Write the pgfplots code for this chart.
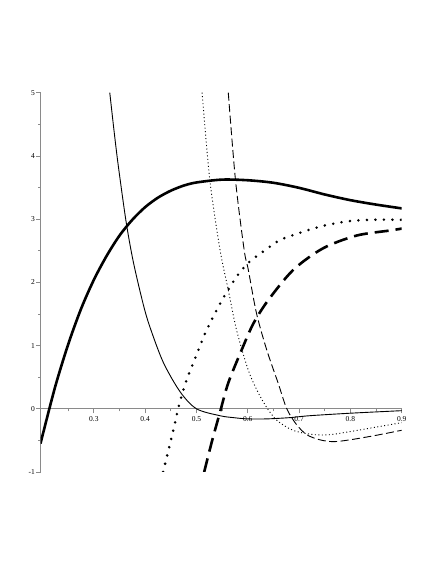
\documentclass[border=0pt]{standalone}
\usepackage{fontspec}
\setmainfont{Liberation Serif}
\usepackage{pgfplots}
\pgfplotsset{compat=1.18}

\definecolor{axisgray}{HTML}{8A8A8A}

\begin{document}
\begin{tikzpicture}
  % page = 436 x 564, one pt per pixel
  \path[use as bounding box] (0,0) rectangle (436pt,564pt);
  \begin{axis}[
    at={(40.5pt,92pt)}, anchor=south west,
    scale only axis,
    width=361.2pt, height=379.3pt,
    xmin=0.196, xmax=0.9,
    ymin=-1, ymax=5,
    axis x line*=middle,
    axis y line*=left,
    axis line style={color=axisgray, line width=0.9pt},
    xtick={0.3,0.4,0.5,0.6,0.7,0.8,0.9},
    xticklabels={0.3,0.4,0.5,0.6,0.7,0.8,0.9},
    minor xtick={0.25,0.35,0.45,0.55,0.65,0.75,0.85},
    ytick={-1,0,1,2,3,4,5},
    minor ytick={-0.5,0.5,1.5,2.5,3.5,4.5},
    tick align=outside,
    major tick length=4.5pt,
    minor tick length=2.5pt,
    tick style={color=axisgray, line width=0.8pt},
    ticklabel style={font=\fontsize{7.5}{8}\selectfont, text=black},
    yticklabel style={inner sep=1pt},
    /pgf/number format/assume math mode=true,
    clip=true,
  ]
    % thick solid
    \addplot[black, line width=2.6pt, smooth] coordinates {
      (0.196,-0.55) (0.200,-0.42) (0.225,0.36) (0.250,1.02) (0.275,1.58)
      (0.300,2.04) (0.325,2.42) (0.350,2.74) (0.375,2.99) (0.400,3.19)
      (0.425,3.34) (0.450,3.45) (0.475,3.53) (0.500,3.58) (0.550,3.625)
      (0.600,3.615) (0.650,3.575) (0.700,3.495) (0.750,3.39) (0.800,3.30)
      (0.850,3.23) (0.900,3.17)
    };
    % thin solid
    \addplot[black, line width=0.9pt, smooth] coordinates {
      (0.331,5.00) (0.340,4.35) (0.348,3.82) (0.363,2.95) (0.377,2.32)
      (0.396,1.66) (0.409,1.30) (0.435,0.74) (0.468,0.27) (0.500,0.00)
      (0.546,-0.11) (0.572,-0.14) (0.600,-0.16) (0.637,-0.16) (0.682,-0.14)
      (0.720,-0.11) (0.800,-0.07) (0.900,-0.03)
    };
    % thin dotted
    \addplot[black, line width=0.9pt, smooth, dash pattern=on 1pt off 2.5pt] coordinates {
      (0.511,5.00) (0.526,3.62) (0.546,2.51) (0.562,1.88) (0.578,1.25)
      (0.601,0.61) (0.620,0.26) (0.637,0.02) (0.655,-0.17) (0.680,-0.31)
      (0.700,-0.37) (0.730,-0.41) (0.760,-0.41) (0.800,-0.36) (0.850,-0.29)
      (0.900,-0.22)
    };
    % thin dashed
    \addplot[black, line width=0.9pt, smooth, dash pattern=on 8pt off 3.5pt] coordinates {
      (0.562,5.00) (0.576,3.62) (0.593,2.51) (0.601,2.20) (0.617,1.51)
      (0.637,0.93) (0.659,0.41) (0.676,0.00) (0.695,-0.25) (0.715,-0.41)
      (0.740,-0.49) (0.767,-0.52) (0.800,-0.49) (0.850,-0.42) (0.900,-0.34)
    };
    % thick dotted
    \addplot[black, line width=2.8pt, smooth, line cap=round, dash pattern=on 0pt off 8.5pt] coordinates {
      (0.435,-1.00) (0.458,-0.23) (0.466,0.06) (0.481,0.46) (0.500,0.85)
      (0.520,1.25) (0.552,1.75) (0.581,2.12) (0.604,2.33) (0.634,2.51)
      (0.663,2.67) (0.708,2.80) (0.750,2.90) (0.800,2.97) (0.845,2.99)
      (0.900,2.99)
    };
    % thick dashed
    \addplot[black, line width=2.6pt, smooth, dash pattern=on 14pt off 7pt] coordinates {
      (0.515,-1.00) (0.530,-0.52) (0.546,-0.05) (0.562,0.41) (0.588,0.93)
      (0.611,1.35) (0.640,1.72) (0.689,2.20) (0.747,2.54) (0.812,2.74)
      (0.877,2.82) (0.900,2.85)
    };
  \end{axis}
\end{tikzpicture}
\end{document}
